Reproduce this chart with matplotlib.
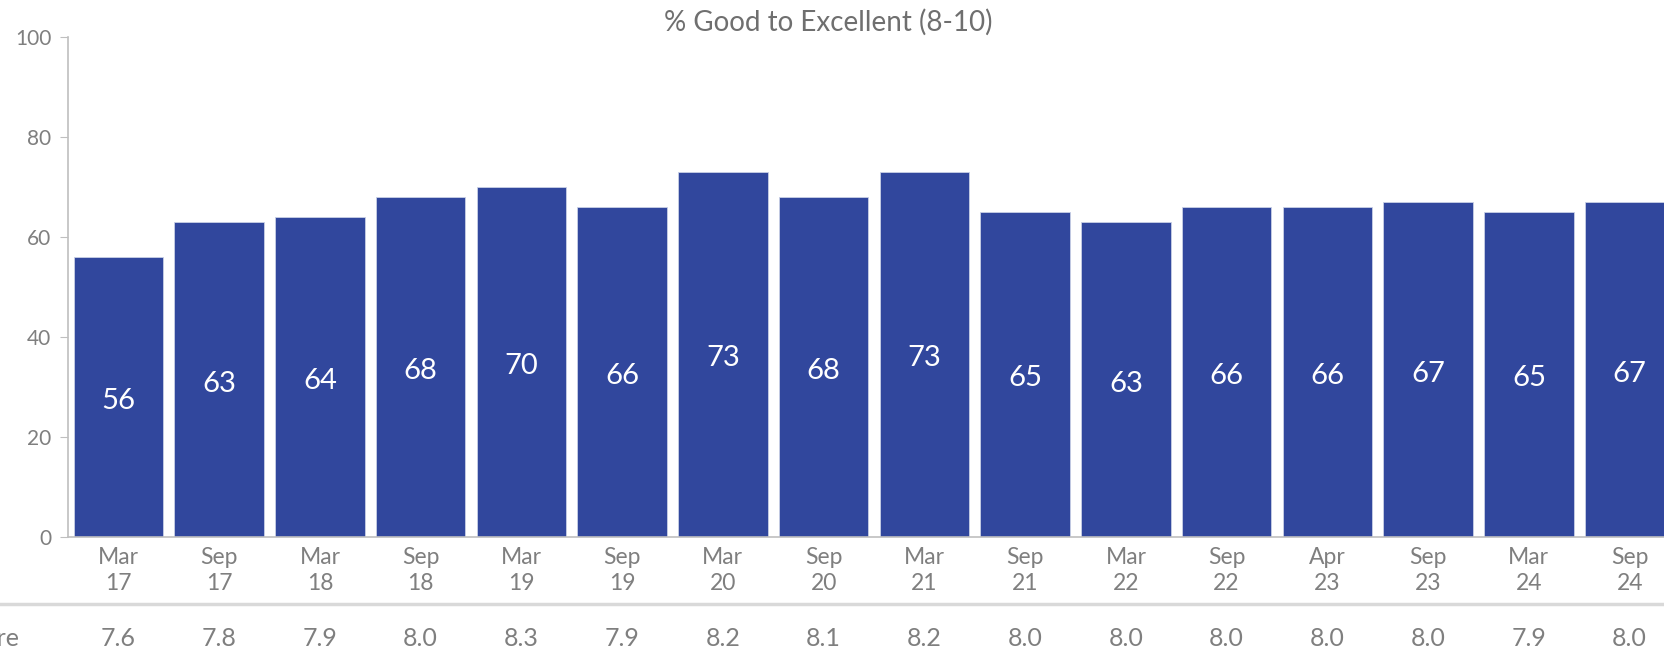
import matplotlib.pyplot as plt
import matplotlib.transforms as mtransforms
from matplotlib.lines import Line2D

# survey waves and results
waves = ["Mar\n17", "Sep\n17", "Mar\n18", "Sep\n18", "Mar\n19", "Sep\n19",
         "Mar\n20", "Sep\n20", "Mar\n21", "Sep\n21", "Mar\n22", "Sep\n22",
         "Apr\n23", "Sep\n23", "Mar\n24", "Sep\n24"]
pct_good = [56, 63, 64, 68, 70, 66, 73, 68, 73, 65, 63, 66, 66, 67, 65, 67]
mean_score = [7.6, 7.8, 7.9, 8.0, 8.3, 7.9, 8.2, 8.1, 8.2, 8.0, 8.0, 8.0,
              8.0, 8.0, 7.9, 8.0]

BAR = "#31479D"
GREY = "#7F7F7F"
AXIS = "#BFBFBF"

plt.rcParams["font.family"] = ["Lato", "DejaVu Sans"]

W, H = 1665, 652
fig = plt.figure(figsize=(W / 100, H / 100), dpi=100)
# plot area runs past the right edge so the last bar gets cut off
ax = fig.add_axes([68 / W, (H - 537) / H, 1612 / W, 500 / H])

x = range(len(waves))
bars = ax.bar(x, pct_good, width=0.89, color=BAR, edgecolor="#C9D0E6", linewidth=0.6)
for b, v in zip(bars, pct_good):
    # value label sits a touch below the bar's midpoint
    ax.text(b.get_x() + b.get_width() / 2, v / 2 - 0.8, str(v), ha="center", va="center",
            color="white", fontsize=21)

ax.set_xlim(-0.5, len(waves) - 0.5)
ax.set_ylim(0, 100)
ax.set_yticks(range(0, 101, 20))
ax.set_xticks(list(x))
ax.set_xticklabels(waves, fontsize=16.5, color=GREY, linespacing=1.3)
ax.tick_params(axis="x", length=0, pad=7)
ax.tick_params(axis="y", length=6, color=AXIS, labelsize=15, labelcolor=GREY, pad=6)

for s in ("top", "right"):
    ax.spines[s].set_visible(False)
ax.spines["left"].set_color(AXIS)
ax.spines["bottom"].set_color(AXIS)
ax.spines["left"].set_linewidth(1.2)
ax.spines["bottom"].set_linewidth(1.2)

fig.text(828 / W, 1 - 22 / H, "% Good to Excellent (8-10)", ha="center", va="center",
         fontsize=20, color="#6F6F6F")

# separator and mean score row under the chart
sep_y = 1 - 604 / H
fig.add_artist(Line2D([0, 1], [sep_y, sep_y], color="#D9D9D9", linewidth=2.5))

row = mtransforms.blended_transform_factory(ax.transData, fig.transFigure)
row_y = 1 - 639 / H
for i, m in enumerate(mean_score):
    ax.text(i, row_y, f"{m:.1f}", transform=row, ha="center", va="center",
            fontsize=18, color=GREY, clip_on=False)
fig.text(19 / W, row_y, "Mean Score", ha="right", va="center",
         fontsize=18, color=GREY)

fig.savefig("out.png", dpi=100)
